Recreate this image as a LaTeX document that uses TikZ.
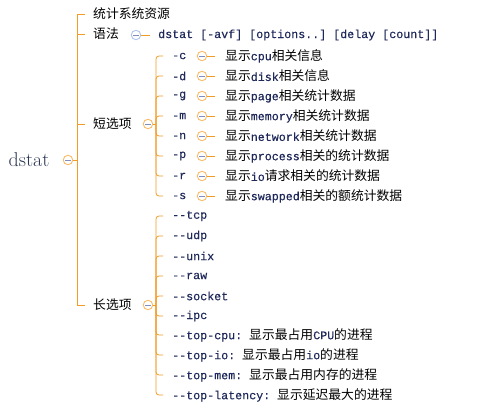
\documentclass[tikz,border=0pt]{standalone}
\usepackage{fontspec}
\setmonofont{Liberation Mono}[FakeBold=0.3]
\newfontfamily\cjk{Noto Sans CJK SC}
\usetikzlibrary{positioning}

\definecolor{branch}{RGB}{242,156,40}
\definecolor{foldc}{RGB}{250,188,105}
\definecolor{foldblue}{RGB}{178,198,236}
\definecolor{foldminus}{RGB}{130,140,190}
\definecolor{ink}{RGB}{30,40,90}
\definecolor{rootink}{RGB}{45,55,85}
\newcommand\en[1]{{\fontsize{11.67}{14}\selectfont\ttfamily\color{ink}#1}}

\begin{document}
\begin{tikzpicture}[x=1pt,y=-1pt,
  link/.style={draw=branch,line width=1pt},
  fold/.style={circle,draw=foldc,fill=white,line width=0.9pt,minimum size=9.5pt,inner sep=0pt,
    path picture={\draw[foldminus,line width=0.9pt]
      ([xshift=-2.6pt]path picture bounding box.center)--([xshift=2.6pt]path picture bounding box.center);}},
  topic/.style={anchor=west,inner xsep=8pt,inner ysep=1pt,font=\cjk\fontsize{12.8}{14}\selectfont},
  opt/.style={anchor=west,inner xsep=9pt,inner ysep=1pt,font=\fontsize{11.67}{14}\selectfont\ttfamily,text=ink},
  desc/.style={anchor=west,inner xsep=10pt,inner ysep=1pt,font=\cjk\fontsize{12.8}{14}\selectfont}]
\useasboundingbox (0,0) rectangle (480,407);

\node[font=\fontsize{20}{22}\selectfont,text=rootink] (root) at (29,160) {dstat};
\node[fold] (rootc) at (68,160) {};
\coordinate (trunk) at (77,160);

\node[topic] (stat) at (85,14) {统计系统资源};
\node[topic] (syntax) at (85,34) {语法};
\node[topic] (short) at (85,124) {短选项};
\node[topic] (long) at (85,305) {长选项};

\draw[link] (rootc.east)--(trunk);
\draw[link] (trunk |- stat.west)--(trunk |- long.west);
\foreach \n in {stat,syntax,short,long}
  \draw[link] (trunk |- \n.west)--(\n.west);

% syntax
\node[fold,draw=foldblue] (syntaxc) at (136,35) {};
\node[opt,inner xsep=8pt] (usage) at (150,35) {dstat [-avf] [options..] [delay [count]]};
\draw[link] (syntaxc.east)--(usage.west);

% short options
\node[fold] (shortc) at (148,124) {};
\coordinate (sbr) at (156,124);
\draw[link] (shortc.east)--(sbr);
\foreach \i/\y/\o/\d in {
    1/56/-c/{显示\en{cpu}相关信息},
    2/76/-d/{显示\en{disk}相关信息},
    3/96/-g/{显示\en{page}相关统计数据},
    4/116/-m/{显示\en{memory}相关统计数据},
    5/136/-n/{显示\en{network}相关统计数据},
    6/156/-p/{显示\en{process}相关的统计数据},
    7/176/-r/{显示\en{io}请求相关的统计数据},
    8/196/-s/{显示\en{swapped}相关的额统计数据}} {
  \node[opt] (s\i) at (163,\y) {\o};
  \node[fold] (sc\i) at (202,\y) {};
  \node[desc] (sd\i) at (215,\y) {\d};
  \draw[link,line width=0.8pt,rounded corners=3pt] (sbr) |- (s\i.west);
  \draw[link,line width=0.8pt] (sc\i.east)--(sd\i.west);
}

% long options
\node[fold] (longc) at (148,305) {};
\coordinate (lbr) at (156,305);
\draw[link] (longc.east)--(lbr);
\foreach \i/\y/\t in {
    1/216/{\en{--tcp}},
    2/236/{\en{--udp}},
    3/256/{\en{--unix}},
    4/276/{\en{--raw}},
    5/296/{\en{--socket}},
    6/316/{\en{--ipc}},
    7/335/{\en{--top-cpu: }显示最占用\en{CPU}的进程},
    8/355/{\en{--top-io: }显示最占用\en{io}的进程},
    9/375/{\en{--top-mem: }显示最占用内存的进程},
    10/395/{\en{--top-latency: }显示延迟最大的进程}} {
  \node[desc,inner xsep=9pt] (l\i) at (163,\y) {\t};
  \draw[link,line width=0.8pt,rounded corners=3pt] (lbr) |- (l\i.west);
}
\end{tikzpicture}
\end{document}
